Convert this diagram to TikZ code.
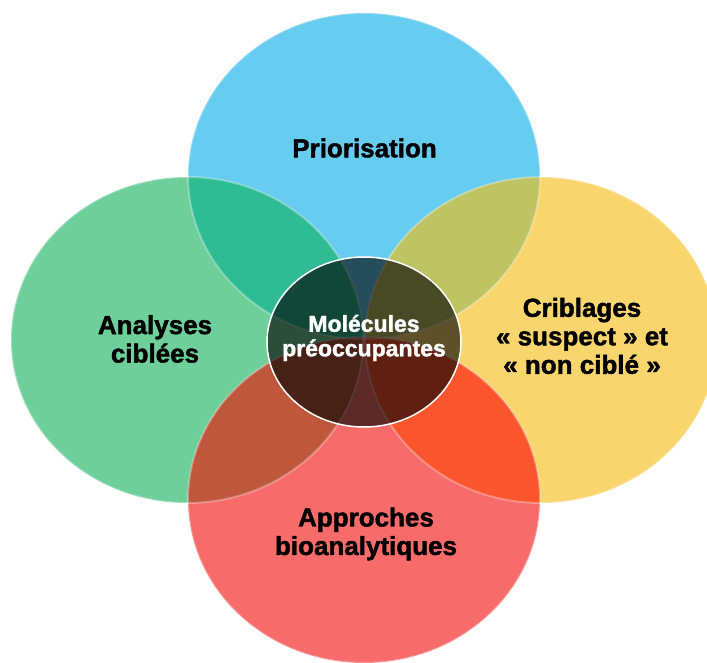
\documentclass[tikz,border=0pt]{standalone}
\usepackage{fontspec}
\setmainfont{Liberation Sans}[BoldFeatures={FakeBold=1.6}]
\definecolor{cblue}{RGB}{102,204,240}
\definecolor{cgreen}{RGB}{111,207,154}
\definecolor{cyellow}{RGB}{249,213,110}
\definecolor{cred}{RGB}{247,107,107}
\definecolor{cbg}{RGB}{47,187,147}
\definecolor{cby}{RGB}{190,195,100}
\definecolor{cgr}{RGB}{190,87,60}
\definecolor{cyr}{RGB}{250,85,45}
\begin{document}
\begin{tikzpicture}[x=1pt,y=-1pt,
  lbl/.style={font=\fontsize{26}{28.5}\selectfont\bfseries, align=center, text=black, inner sep=0pt},
  ctr/.style={font=\fontsize{23}{24.5}\selectfont\bfseries, align=center, text=white, inner sep=0pt},
  rim/.style={draw=white, draw opacity=0.3, line width=2pt}]
\useasboundingbox (0,0) rectangle (707,663);
\clip (0,0) rectangle (707,663);
% base circles
\fill[cblue] (364,176) ellipse [x radius=176, y radius=163];
\fill[cgreen] (187,340) ellipse [x radius=176, y radius=163];
\fill[cyellow] (541,340) ellipse [x radius=176, y radius=163];
\fill[cred] (364,500) ellipse [x radius=176, y radius=163];
% overlaps
\begin{scope}
  \clip (364,176) ellipse [x radius=176, y radius=163];
  \fill[cbg] (187,340) ellipse [x radius=176, y radius=163];
  \fill[cby] (541,340) ellipse [x radius=176, y radius=163];
\end{scope}
\begin{scope}
  \clip (364,500) ellipse [x radius=176, y radius=163];
  \fill[cgr] (187,340) ellipse [x radius=176, y radius=163];
  \fill[cyr] (541,340) ellipse [x radius=176, y radius=163];
\end{scope}
% rims
\path[rim] (364,176) ellipse [x radius=176, y radius=163];
\path[rim] (187,340) ellipse [x radius=176, y radius=163];
\path[rim] (541,340) ellipse [x radius=176, y radius=163];
\path[rim] (364,500) ellipse [x radius=176, y radius=163];
% centre overlay
\fill[black, fill opacity=0.62] (364,342) ellipse [x radius=97, y radius=85];
\draw[white, line width=1.5pt] (364,342) ellipse [x radius=97, y radius=85];
% labels
\node[lbl] (prio) at (364.5,148) {Priorisation};
\node[lbl] (anal) at (155,339) {Analyses\\ciblées};
\node[lbl] (crib) at (582,336) {Criblages\\« suspect » et\\« non ciblé »};
\node[lbl] (appr) at (366,534) {Approches\\bioanalytiques};
\node[ctr] (mol) at (364,338) {Molécules\\préoccupantes};
\end{tikzpicture}
\end{document}
